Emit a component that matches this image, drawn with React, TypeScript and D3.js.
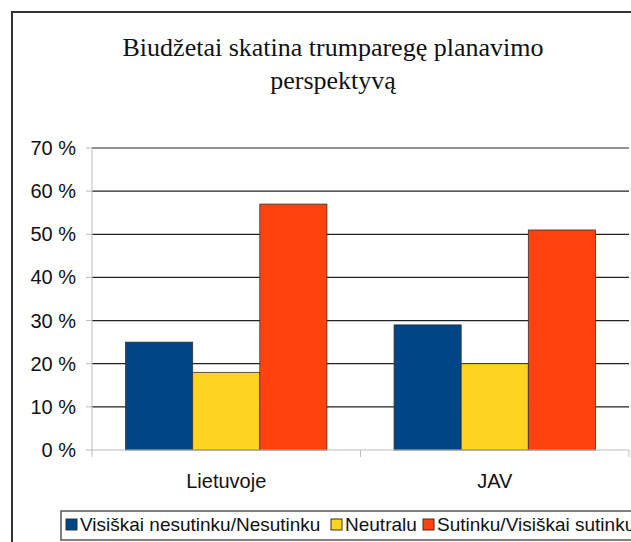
import * as d3 from "d3";

const W = 631;
const H = 542;
const PLOT = { left: 92, right: 629, top: 148, bottom: 450 };

const categories = ["Lietuvoje", "JAV"];
const seriesNames = [
  "Visiškai nesutinku/Nesutinku",
  "Neutralu",
  "Sutinku/Visiškai sutinku",
];
const seriesColors = ["#004586", "#ffd320", "#ff420e"];
const valuesLietuvoje = [25, 18, 57];
const valuesJAV = [29, 20, 51];
const yTicks = [0, 10, 20, 30, 40, 50, 60, 70];
const titleLines = ["Biudžetai skatina trumparegę planavimo", "perspektyvą"];

const rows = [valuesLietuvoje, valuesJAV];

export default function App() {
  const x = d3
    .scaleBand<string>()
    .domain(categories)
    .range([PLOT.left, PLOT.right]);
  // bars fill the middle 75% of each category
  const inner = d3
    .scaleBand<number>()
    .domain([0, 1, 2])
    .range([0, x.bandwidth()])
    .paddingOuter(0.5)
    .paddingInner(0);
  const y = d3
    .scaleLinear()
    .domain([0, 70])
    .range([PLOT.bottom, PLOT.top]);

  const catEdges = [PLOT.left, ...categories.map((c) => (x(c) ?? 0) + x.bandwidth())];

  return (
    <svg
      width={W}
      height={H}
      style={{ position: "absolute", left: 0, top: 0, display: "block" }}
      fontFamily="'Liberation Sans', Arial, sans-serif"
    >
      <rect x={0} y={0} width={W} height={H} fill="white" />
      {/* outer frame */}
      <path d={`M12,${H} V12 H${W}`} fill="none" stroke="#333" strokeWidth={2} />

      {/* title */}
      {titleLines.map((t, i) => (
        <text
          key={i}
          x={333}
          y={56 + i * 33}
          textAnchor="middle"
          fontFamily="'Liberation Serif', 'Times New Roman', serif"
          fontSize={26}
          fill="#111"
        >
          {t}
        </text>
      ))}

      {/* gridlines */}
      {yTicks
        .filter((t) => t > 0)
        .map((t) => (
          <line
            key={t}
            x1={PLOT.left}
            x2={PLOT.right}
            y1={y(t)}
            y2={y(t)}
            stroke="#222"
            strokeWidth={1.2}
          />
        ))}

      {/* y axis */}
      <line x1={PLOT.left} x2={PLOT.left} y1={PLOT.top} y2={PLOT.bottom} stroke="#bbb" strokeWidth={1} />
      {yTicks.map((t) => (
        <g key={t}>
          <line x1={PLOT.left - 6} x2={PLOT.left} y1={y(t)} y2={y(t)} stroke="#bbb" />
          <text
            x={76}
            y={y(t)}
            dy="0.35em"
            textAnchor="end"
            fontSize={20}
            fill="#111"
          >
            {t} %
          </text>
        </g>
      ))}

      {/* bars */}
      {categories.map((c, ci) =>
        rows[ci].map((v, si) => (
          <rect
            key={`${c}-${si}`}
            x={(x(c) ?? 0) + (inner(si) ?? 0)}
            y={y(v)}
            width={inner.bandwidth()}
            height={y(0) - y(v)}
            fill={seriesColors[si]}
            stroke="#333"
            strokeWidth={0.8}
          />
        ))
      )}

      {/* x axis */}
      <line x1={PLOT.left} x2={PLOT.right} y1={PLOT.bottom} y2={PLOT.bottom} stroke="#bbb" />
      {catEdges.map((e, i) => (
        <line key={i} x1={e} x2={e} y1={PLOT.bottom} y2={PLOT.bottom + 7} stroke="#bbb" />
      ))}
      {categories.map((c) => (
        <text
          key={c}
          x={(x(c) ?? 0) + x.bandwidth() / 2}
          y={488}
          textAnchor="middle"
          fontSize={20}
          fill="#111"
        >
          {c}
        </text>
      ))}

      {/* legend */}
      <rect x={61} y={511} width={W} height={29} fill="white" stroke="#555" strokeWidth={1.5} />
      {seriesNames.map((n, i) => {
        const lx = [66, 331, 423][i];
        return (
          <g key={n}>
            <rect x={lx} y={519} width={11} height={11} fill={seriesColors[i]} stroke="#333" strokeWidth={1} />
            <text x={lx + 14} y={531} fontSize={19} fill="#111">
              {n}
            </text>
          </g>
        );
      })}
    </svg>
  );
}
